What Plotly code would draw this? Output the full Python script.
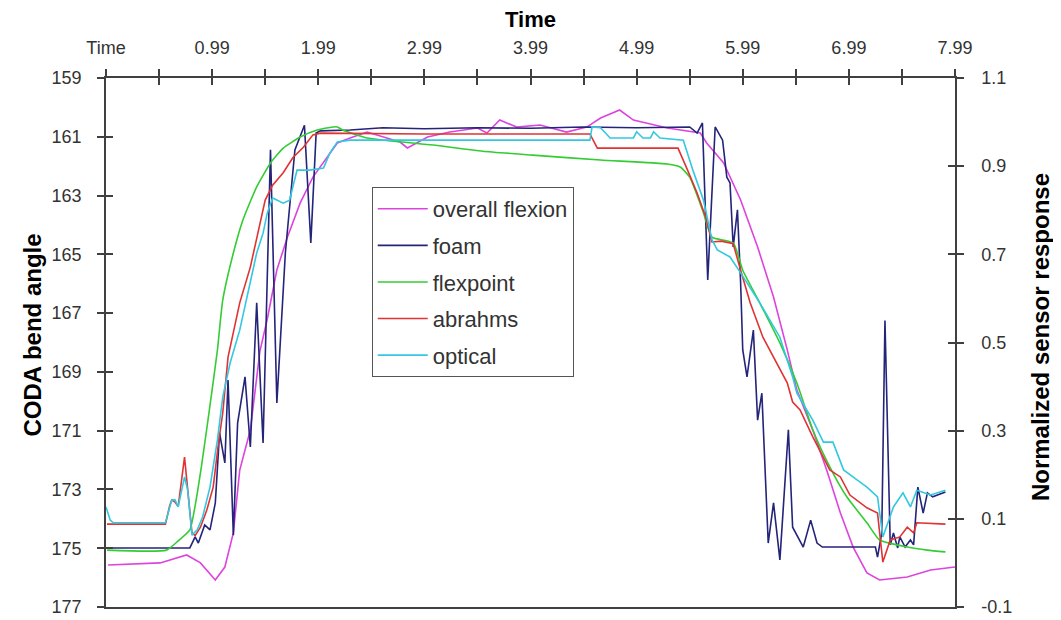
import plotly.graph_objects as go

# ---- axis labels ----
time_labels = ["Time", "0.99", "1.99", "2.99", "3.99", "4.99", "5.99", "6.99", "7.99"]
left_tick_vals = [159, 161, 163, 165, 167, 169, 171, 173, 175, 177]
right_tick_vals = [1.1, 0.9, 0.7, 0.5, 0.3, 0.1, -0.1]
right_tick_text = ["1.1", "0.9", "0.7", "0.5", "0.3", "0.1", "-0.1"]

# ---- overall flexion (CODA bend angle, left axis) ----
flex_t = [0.02, 0.35, 0.51, 0.76, 0.89, 1.03, 1.12, 1.20, 1.26, 1.36, 1.45, 1.52, 1.61, 1.71,
          1.83, 1.95, 2.08, 2.18, 2.30, 2.46, 2.77, 2.84, 3.03, 3.24, 3.50, 3.59, 3.71, 3.87,
          4.09, 4.34, 4.53, 4.66, 4.84, 4.97, 5.29, 5.60, 5.66, 5.82, 5.98, 6.14, 6.29, 6.42,
          6.51, 6.66, 6.80, 6.92, 7.04, 7.17, 7.29, 7.55, 7.77, 8.00]
flex_angle = [175.57, 175.54, 175.50, 175.23, 175.50, 176.08, 175.64, 174.48, 172.34, 170.98,
              168.30, 167.20, 165.53, 164.41, 163.25, 162.37, 161.69, 161.21, 161.04, 160.84,
              161.18, 161.38, 161.01, 160.84, 160.70, 160.87, 160.43, 160.67, 160.60, 160.84,
              160.67, 160.36, 160.09, 160.43, 160.70, 160.87, 161.21, 161.89, 163.15, 164.75,
              166.45, 168.26, 169.62, 170.98, 172.44, 173.80, 174.96, 175.84, 176.08, 175.98,
              175.74, 175.64]

# ---- foam (normalized, right axis) ----
foam_t = [0.02, 0.79, 0.84, 0.87, 0.93, 0.98, 1.03, 1.07, 1.12, 1.15, 1.20, 1.24, 1.31, 1.36,
          1.42, 1.48, 1.55, 1.61, 1.69, 1.73, 1.78, 1.87, 1.93, 1.98, 2.02, 2.30, 2.61, 3.00,
          3.50, 4.00, 4.50, 5.00, 5.50, 5.57, 5.62, 5.67, 5.74, 5.81, 5.85, 5.88, 5.91, 5.95,
          5.98, 6.00, 6.04, 6.10, 6.14, 6.18, 6.24, 6.29, 6.35, 6.43, 6.47, 6.57, 6.64, 6.70,
          6.75, 7.25, 7.27, 7.31, 7.34, 7.39, 7.42, 7.46, 7.48, 7.53, 7.58, 7.61, 7.65, 7.70,
          7.74, 7.79, 7.91]
foam_r = [0.034, 0.034, 0.059, 0.045, 0.086, 0.075, 0.136, 0.295, 0.227, 0.415, 0.063, 0.317,
          0.422, 0.263, 0.590, 0.272, 0.937, 0.363, 0.703, 0.801, 0.937, 0.993, 0.726, 0.975,
          0.980, 0.982, 0.987, 0.985, 0.987, 0.986, 0.989, 0.987, 0.989, 0.975, 0.998, 0.642,
          0.989, 0.959, 0.875, 0.862, 0.717, 0.801, 0.635, 0.483, 0.422, 0.528, 0.324, 0.385,
          0.045, 0.136, 0.007, 0.302, 0.081, 0.036, 0.097, 0.045, 0.036, 0.036, 0.013, 0.068,
          0.550, 0.041, 0.068, 0.034, 0.059, 0.036, 0.052, 0.041, 0.172, 0.113, 0.159, 0.150,
          0.161]

# ---- flexpoint ----
flexpoint_t = [0.01, 0.57, 0.68, 0.79, 0.84, 0.90, 0.97, 1.05, 1.10, 1.20, 1.29, 1.42, 1.55,
               1.67, 1.83, 1.99, 2.14, 2.18, 2.23, 2.46, 3.08, 3.55, 4.02, 4.66, 5.29, 5.41,
               5.50, 5.63, 5.71, 5.91, 6.00, 6.16, 6.35, 6.51, 6.66, 6.82, 6.98, 7.17, 7.29,
               7.55, 7.74, 7.91]
flexpoint_r = [0.029, 0.029, 0.050, 0.075, 0.130, 0.220, 0.340, 0.483, 0.596, 0.703, 0.778,
               0.853, 0.907, 0.941, 0.966, 0.982, 0.989, 0.989, 0.982, 0.964, 0.948, 0.934,
               0.925, 0.914, 0.905, 0.898, 0.875, 0.794, 0.739, 0.726, 0.664, 0.590, 0.499,
               0.408, 0.302, 0.218, 0.150, 0.091, 0.052, 0.036, 0.029, 0.025]

# ---- abrahms ----
abrahms_t = [0.01, 0.56, 0.60, 0.62, 0.65, 0.68, 0.74, 0.77, 0.81, 0.84, 0.89, 0.95, 1.01,
             1.06, 1.10, 1.15, 1.26, 1.36, 1.42, 1.50, 1.57, 1.67, 1.76, 1.86, 1.95, 2.02,
             3.00, 4.56, 4.63, 5.39, 5.48, 5.57, 5.65, 5.71, 5.80, 5.91, 5.98, 6.07, 6.19,
             6.32, 6.42, 6.47, 6.54, 6.66, 6.82, 6.92, 7.01, 7.17, 7.27, 7.32, 7.39, 7.48,
             7.55, 7.61, 7.64, 7.91]
abrahms_r = [0.088, 0.088, 0.130, 0.143, 0.138, 0.128, 0.240, 0.170, 0.068, 0.062, 0.081,
             0.120, 0.172, 0.272, 0.340, 0.467, 0.590, 0.671, 0.733, 0.823, 0.857, 0.885,
             0.919, 0.943, 0.971, 0.975, 0.973, 0.973, 0.941, 0.941, 0.891, 0.839, 0.785,
             0.728, 0.730, 0.724, 0.664, 0.590, 0.512, 0.454, 0.408, 0.365, 0.347, 0.286,
             0.211, 0.195, 0.154, 0.125, 0.113, 0.002, 0.052, 0.059, 0.081, 0.068, 0.091,
             0.088]

# ---- optical ----
optical_t = [0.00, 0.04, 0.07, 0.56, 0.62, 0.65, 0.68, 0.74, 0.77, 0.81, 0.86, 0.91, 0.98,
             1.05, 1.10, 1.17, 1.26, 1.36, 1.42, 1.48, 1.52, 1.57, 1.67, 1.73, 1.80, 1.92,
             2.05, 2.11, 2.18, 2.30, 3.00, 4.00, 4.56, 4.58, 4.66, 4.75, 4.97, 5.00, 5.06,
             5.13, 5.16, 5.22, 5.44, 5.53, 5.63, 5.71, 5.76, 5.88, 5.98, 6.16, 6.35, 6.47,
             6.51, 6.66, 6.76, 6.85, 6.95, 7.08, 7.17, 7.27, 7.32, 7.42, 7.51, 7.58, 7.64,
             7.77, 7.91]
optical_r = [0.127, 0.097, 0.091, 0.091, 0.143, 0.143, 0.127, 0.195, 0.165, 0.063, 0.075,
             0.104, 0.172, 0.279, 0.376, 0.454, 0.528, 0.635, 0.703, 0.748, 0.794, 0.828,
             0.816, 0.823, 0.891, 0.891, 0.896, 0.930, 0.955, 0.959, 0.959, 0.959, 0.959,
             0.989, 0.987, 0.964, 0.964, 0.978, 0.964, 0.964, 0.978, 0.964, 0.959, 0.891,
             0.823, 0.733, 0.710, 0.694, 0.658, 0.590, 0.512, 0.422, 0.385, 0.324, 0.274,
             0.274, 0.211, 0.188, 0.172, 0.150, 0.059, 0.127, 0.159, 0.127, 0.165, 0.154,
             0.165]

for a, b in [(flex_t, flex_angle), (foam_t, foam_r), (flexpoint_t, flexpoint_r),
             (abrahms_t, abrahms_r), (optical_t, optical_r)]:
    assert len(a) == len(b), (len(a), len(b))

FONT = "Liberation Sans, Arial, sans-serif"
AX = "#404040"
LW = 1.6

fig = go.Figure()
series = [
    ("overall flexion", flex_t, flex_angle, "#dd44dd", "y", "linear"),
    ("foam", foam_t, foam_r, "#24247a", "y2", "linear"),
    ("flexpoint", flexpoint_t, flexpoint_r, "#33cc33", "y2", "spline"),
    ("abrahms", abrahms_t, abrahms_r, "#e03333", "y2", "linear"),
    ("optical", optical_t, optical_r, "#33c8e0", "y2", "linear"),
]
for name, t, v, col, ax, shape in series:
    line = dict(color=col, width=LW, shape=shape)
    if shape == "spline":
        line["smoothing"] = 0.5
    fig.add_trace(go.Scatter(x=t, y=v, mode="lines", name=name, yaxis=ax,
                             legendgroup=name, line=line))

# empty helper traces so the inside-tick overlay axes exist
fig.add_trace(go.Scatter(x=[], y=[], xaxis="x3", yaxis="y3", showlegend=False, hoverinfo="skip"))
fig.add_trace(go.Scatter(x=[], y=[], xaxis="x3", yaxis="y4", showlegend=False, hoverinfo="skip"))

half_ticks = [i * 0.5 for i in range(2 * (len(time_labels) - 1) + 1)]
half_text = [time_labels[i // 2] if i % 2 == 0 else "" for i in range(len(half_ticks))]

common_tick = dict(ticklen=7, tickwidth=1.5, tickcolor=AX, showgrid=False, zeroline=False,
                   automargin=False)

# the page body adds an 8px offset, so the figure is sized/margined to compensate
fig.update_layout(
    width=1053, height=612,
    margin=dict(l=98, r=106, t=70, b=13, autoexpand=False),
    paper_bgcolor="white", plot_bgcolor="white",
    font=dict(family=FONT, color="#333333"),
    showlegend=True,
    xaxis=dict(range=[0, 8], side="top", tickvals=half_ticks, ticktext=half_text,
               ticks="outside", showline=True, linecolor=AX, linewidth=1.5, mirror=True,
               tickfont=dict(size=18, color="#333333"), ticklabelstandoff=8,
               **common_tick),
    xaxis3=dict(range=[0, 8], side="top", overlaying="x", tickvals=half_ticks,
                ticks="inside", showticklabels=False, showline=False, anchor="y3",
                **common_tick),
    yaxis=dict(range=[177, 159], tickvals=left_tick_vals, ticks="outside",
               showline=True, linecolor=AX, linewidth=1.5,
               tickfont=dict(size=18, color="#333333"), ticklabelstandoff=12,
               **common_tick),
    yaxis2=dict(range=[-0.1, 1.1], overlaying="y", side="right", tickvals=right_tick_vals,
                ticktext=right_tick_text, ticks="outside", showline=True, linecolor=AX,
                linewidth=1.5, tickfont=dict(size=18, color="#333333"), ticklabelstandoff=14,
                **common_tick),
    yaxis3=dict(range=[177, 159], overlaying="y", side="left", tickvals=left_tick_vals,
                ticks="inside", showticklabels=False, showline=False, **common_tick),
    yaxis4=dict(range=[-0.1, 1.1], overlaying="y", side="right", tickvals=right_tick_vals,
                ticks="inside", showticklabels=False, showline=False, **common_tick),
    legend=dict(x=0.313, y=0.794, xanchor="left", yanchor="top",
                bgcolor="white", bordercolor="#555555", borderwidth=1,
                font=dict(size=22, color="#333333", family=FONT),
                tracegroupgap=5, itemwidth=50),
    annotations=[
        dict(text="<b>Time</b>", xref="paper", yref="paper", x=0.5, y=1.11,
             xanchor="center", yanchor="middle",
             showarrow=False, font=dict(size=22, color="black", family=FONT)),
        dict(text="<b>CODA bend angle</b>", xref="paper", yref="paper", x=-0.086, y=0.515,
             xanchor="center", yanchor="middle",
             textangle=-90, showarrow=False, font=dict(size=24, color="black", family=FONT)),
        dict(text="<b>Normalized sensor response</b>", xref="paper", yref="paper", x=1.10,
             y=0.51, xanchor="center", yanchor="middle", textangle=-90, showarrow=False,
             font=dict(size=24, color="black", family=FONT)),
    ],
)

fig.write_html("out.html")
